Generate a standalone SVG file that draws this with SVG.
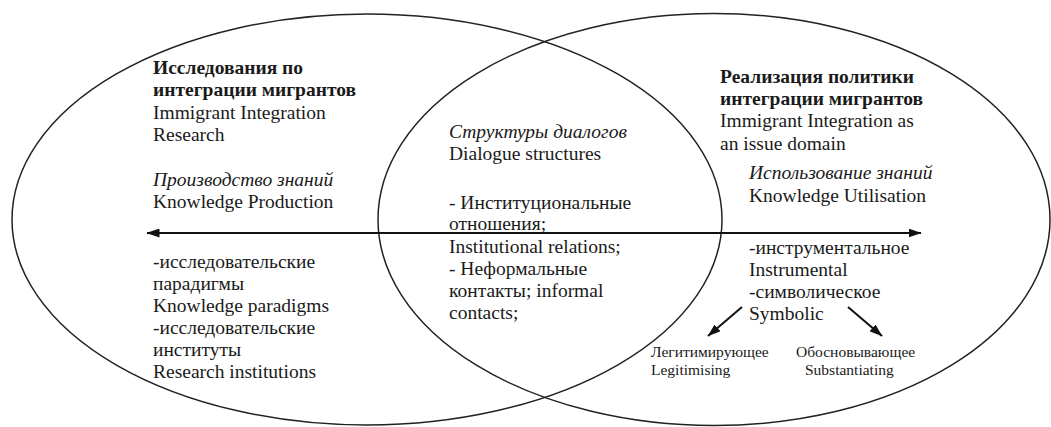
<svg xmlns="http://www.w3.org/2000/svg" width="1051" height="427" viewBox="0 0 1051 427">
  <defs>
    <style>
      .ell { fill: none; stroke: #222; stroke-width: 1.5; }
      text { font-family: "Liberation Serif", "Times New Roman", serif; fill: #1a1a1a; }
      .t { font-size: 19.5px; }
      .b { font-size: 19.5px; font-weight: bold; }
      .i { font-size: 19.5px; font-style: italic; }
      .s { font-size: 15.5px; }
      .conn { stroke: #111; stroke-width: 2; fill: none; }
    </style>
    <marker id="ah" viewBox="0 0 13 9" refX="12.5" refY="4.5" markerWidth="13" markerHeight="9" markerUnits="userSpaceOnUse" orient="auto-start-reverse">
      <path d="M0,0 L13,4.5 L0,9 z" fill="#111"/>
    </marker>
  </defs>
  <rect width="1051" height="427" fill="#fff"/>

  <g id="left-ellipse">
    <ellipse class="ell" cx="367" cy="219.5" rx="355" ry="205.5"/>
  </g>
  <g id="right-ellipse">
    <ellipse class="ell" cx="714" cy="219.5" rx="336" ry="206"/>
  </g>

  <g id="connectors">
    <line class="conn" x1="147" y1="233" x2="921" y2="233" marker-start="url(#ah)" marker-end="url(#ah)"/>
    <line class="conn" x1="742" y1="307" x2="708" y2="336" marker-end="url(#ah)"/>
    <line class="conn" x1="848" y1="307" x2="882" y2="336" marker-end="url(#ah)"/>
  </g>

  <g id="node-research">
    <text class="b" x="153" y="74">Исследования по</text>
    <text class="b" x="153" y="96">интеграции мигрантов</text>
    <text class="t" x="153" y="119">Immigrant Integration</text>
    <text class="t" x="153" y="141">Research</text>
    <text class="i" x="153" y="186">Производство знаний</text>
    <text class="t" x="153" y="208">Knowledge Production</text>
    <text class="t" x="153" y="268">-исследовательские</text>
    <text class="t" x="153" y="290">парадигмы</text>
    <text class="t" x="153" y="312">Knowledge paradigms</text>
    <text class="t" x="153" y="334">-исследовательские</text>
    <text class="t" x="153" y="356">институты</text>
    <text class="t" x="153" y="378">Research institutions</text>
  </g>

  <g id="node-dialogue">
    <text class="i" x="449" y="138">Структуры диалогов</text>
    <text class="t" x="449" y="160">Dialogue structures</text>
    <text class="t" x="449" y="209">- Институциональные</text>
    <text class="t" x="449" y="230">отношения;</text>
    <text class="t" x="449" y="253">Institutional relations;</text>
    <text class="t" x="449" y="275">- Неформальные</text>
    <text class="t" x="449" y="297">контакты; informal</text>
    <text class="t" x="449" y="319">contacts;</text>
  </g>

  <g id="node-policy">
    <text class="b" x="720" y="83">Реализация политики</text>
    <text class="b" x="720" y="105">интеграции мигрантов</text>
    <text class="t" x="720" y="127">Immigrant Integration as</text>
    <text class="t" x="720" y="150">an issue domain</text>
    <text class="i" x="749" y="179">Использование знаний</text>
    <text class="t" x="749" y="202">Knowledge Utilisation</text>
    <text class="t" x="749" y="254">-инструментальное</text>
    <text class="t" x="749" y="276">Instrumental</text>
    <text class="t" x="749" y="298">-символическое</text>
    <text class="t" x="749" y="320">Symbolic</text>
  </g>

  <g id="node-legitimising">
    <text class="s" x="651" y="357">Легитимирующее</text>
    <text class="s" x="651" y="375">Legitimising</text>
  </g>

  <g id="node-substantiating">
    <text class="s" x="796" y="357">Обосновывающее</text>
    <text class="s" x="805" y="375">Substantiating</text>
  </g>
</svg>
